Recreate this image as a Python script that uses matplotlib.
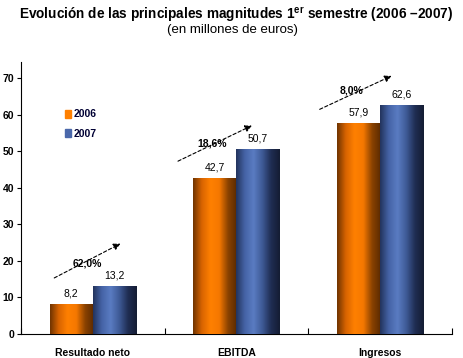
import numpy as np
import matplotlib
matplotlib.use("Agg")
import matplotlib.pyplot as plt
from matplotlib.colors import LinearSegmentedColormap
from matplotlib.patches import Patch

plt.rcParams["font.family"] = ["Liberation Sans", "DejaVu Sans"]
plt.rcParams["mathtext.fontset"] = "custom"
plt.rcParams["mathtext.rm"] = "Liberation Sans"
plt.rcParams["mathtext.bf"] = "Liberation Sans:bold"

categorias = ["Resultado neto", "EBITDA", "Ingresos"]
valores_2006 = [8.2, 42.7, 57.9]
valores_2007 = [13.2, 50.7, 62.6]
variacion = ["62,0%", "18,6%", "8,0%"]

# posiciones de las flechas (inicio, fin, texto) en coordenadas de datos
flechas = [
    ((-0.285, 15.0), (0.21, 25.1), (-0.04, 19.4)),
    ((0.576, 47.0), (1.125, 57.4), (0.833, 52.2)),
    ((1.562, 61.2), (2.097, 71.0), (1.80, 66.7)),
]

cmap_naranja = LinearSegmentedColormap.from_list(
    "naranja", ["#6e3300", "#d86400", "#ff8000", "#f57800", "#8a4200", "#5a2a00"])
cmap_azul = LinearSegmentedColormap.from_list(
    "azul", ["#22335c", "#4563a6", "#5a7cc2", "#3e5a96", "#1f2d52", "#141c33"])

fig = plt.figure(figsize=(4.64, 3.58), dpi=100)
ax = fig.add_axes([0.045, 0.067, 0.929, 0.76])

x = np.arange(len(categorias))
ancho = 0.3
b1 = ax.bar(x - ancho / 2, valores_2006, ancho, color="#ff8000", zorder=2)
b2 = ax.bar(x + ancho / 2, valores_2007, ancho, color="#4a68aa", zorder=2)

ax.set_xlim(-0.5, 2.5)
ax.set_ylim(0, 74.5)

grad = np.linspace(0, 1, 256).reshape(1, -1)
for barras, cmap in ((b1, cmap_naranja), (b2, cmap_azul)):
    for p in barras:
        x0, y0 = p.get_x(), p.get_y()
        w, h = p.get_width(), p.get_height()
        im = ax.imshow(grad, cmap=cmap, aspect="auto", extent=[x0, x0 + w, y0, y0 + h],
                       zorder=3, interpolation="bicubic")
        im.set_clip_path(p)

for barras, vals in ((b1, valores_2006), (b2, valores_2007)):
    for p, v in zip(barras, vals):
        ax.text(p.get_x() + p.get_width() / 2, v + 1.5, f"{v:.1f}".replace(".", ","),
                ha="center", va="bottom", fontsize=7.5)

for (ini, fin, txt), pct in zip(flechas, variacion):
    ax.annotate("", xy=fin, xytext=ini,
                arrowprops=dict(arrowstyle="-|>", linestyle=(0, (3, 2)), lw=0.8,
                                color="black", mutation_scale=10))
    ax.text(txt[0], txt[1], pct, ha="center", va="center", fontsize=7.5,
            fontweight="bold")

ax.set_xticks([-0.5, 0.5, 1.5, 2.5])
ax.set_xticklabels([])
ax.set_xticks(x, minor=True)
ax.set_xticklabels(categorias, minor=True, fontsize=7.5, fontweight="bold")
ax.tick_params(axis="x", which="minor", length=0, pad=10)
ax.tick_params(axis="x", which="major", length=4, direction="in")
ax.set_yticks(range(0, 80, 10))
ax.tick_params(axis="y", labelsize=7.5, length=3, pad=2)
for t in ax.get_yticklabels():
    t.set_fontweight("bold")

for s in ("top", "right"):
    ax.spines[s].set_visible(False)

leg = ax.legend(handles=[Patch(color="#ff8000", label="2006"),
                         Patch(color="#4a68aa", label="2007")],
                loc="upper left", bbox_to_anchor=(0.08, 0.86), frameon=False,
                handlelength=0.6, handleheight=0.8, handletextpad=0.3,
                labelspacing=0.9, prop={"size": 7.5, "weight": "bold"})
for t in leg.get_texts():
    t.set_color("#000033")

fig.text(0.508, 0.958, r"Evolución de las principales magnitudes 1$^{\mathbf{er}}$ semestre (2006 –2007)",
         ha="center", va="center", fontsize=9.8, fontweight="bold")
fig.text(0.5, 0.915, "(en millones de euros)", ha="center", va="center", fontsize=9.5)

fig.savefig("out.png", dpi=100)
